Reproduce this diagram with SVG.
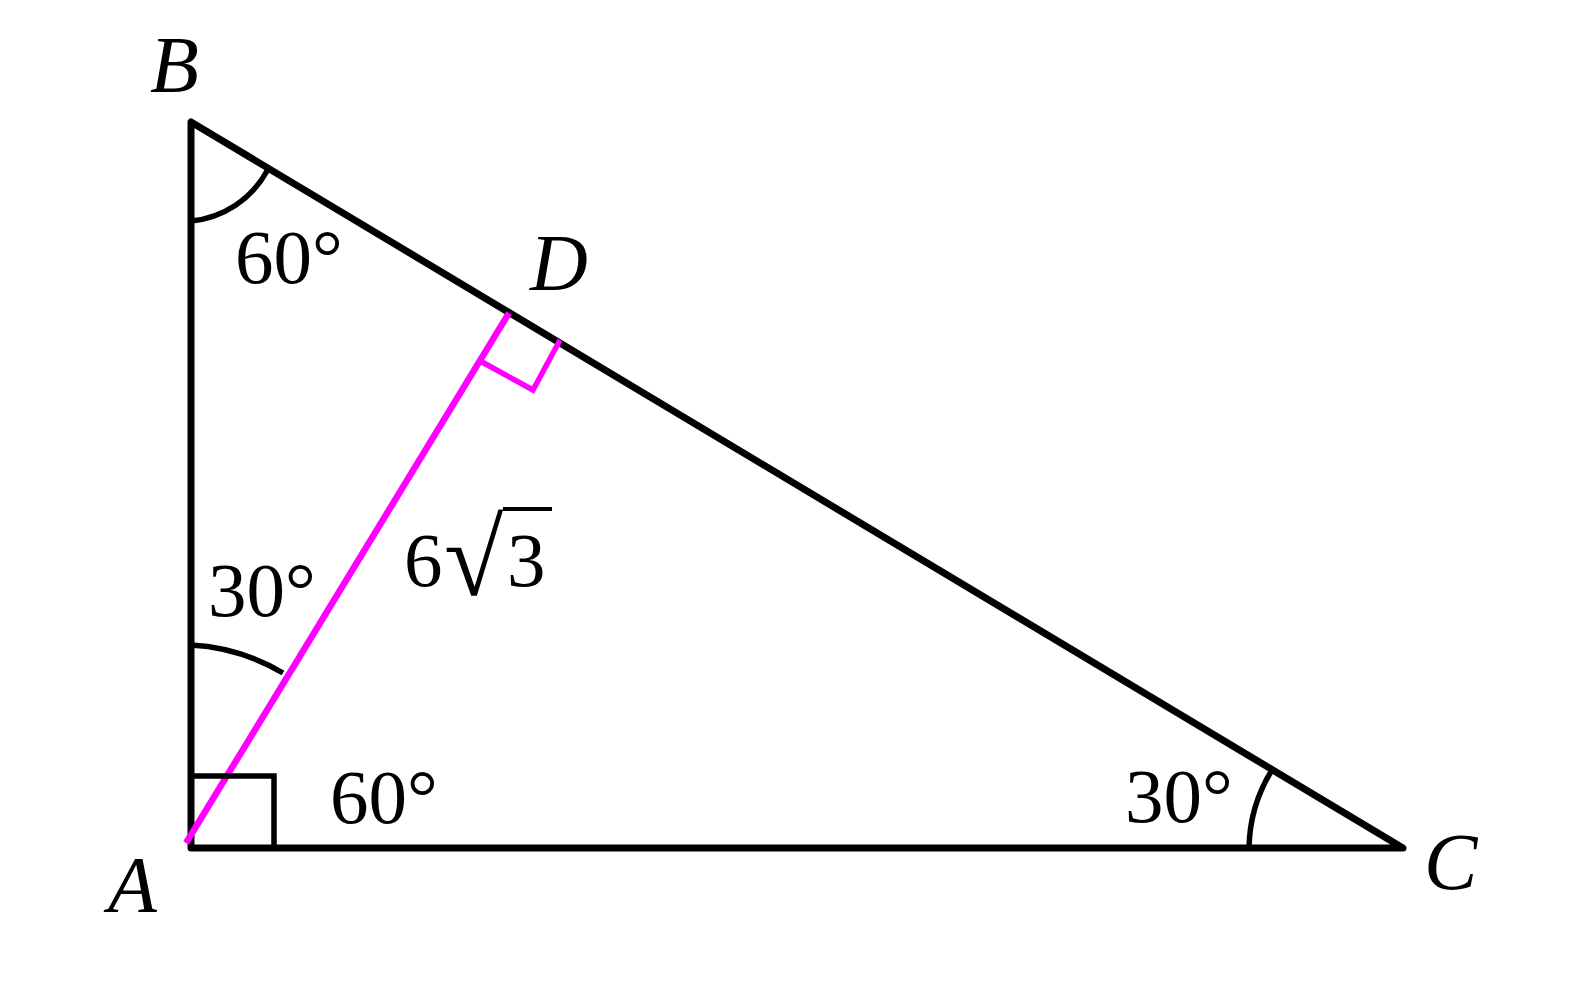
<svg xmlns="http://www.w3.org/2000/svg" width="1587" height="991" viewBox="0 0 1587 991">
<style>
.side{stroke:#000;stroke-width:7;fill:none;stroke-linecap:round;stroke-linejoin:round}
.mark{stroke:#000;stroke-width:5.5;fill:none}
.alt{stroke:#ff00ff;stroke-width:6.5;fill:none}
.altmark{stroke:#ff00ff;stroke-width:5.5;fill:none}
.pt{font-family:"Liberation Serif",serif;font-style:italic;font-size:80px;fill:#000}
.num{font-family:"Liberation Serif",serif;font-size:77px;fill:#000}
</style>
<rect width="1587" height="991" fill="#fff"/>
<g id="connectors">
<polygon class="side" points="191,122 191,848 1403,848"/>
<line class="alt" x1="186" y1="843" x2="509" y2="313"/>
</g>
<g id="marks">
<polyline class="mark" points="191,776 274,776 274,848"/>
<path class="mark" d="M191,221 A97,97 0 0 0 267,171"/>
<path class="mark" d="M191,645 A201,201 0 0 1 283,673"/>
<path class="mark" d="M1249,848 A153,153 0 0 1 1272,770"/>
<polyline class="altmark" points="482,362 533,390 560,340"/>
</g>
<g id="B"><text class="pt" x="150" y="92">B</text></g>
<g id="D"><text class="pt" x="530" y="290">D</text></g>
<g id="A"><text class="pt" x="108" y="912">A</text></g>
<g id="C"><text class="pt" x="1424" y="889">C</text></g>
<g id="angle-B"><text class="num" x="235" y="283">60°</text></g>
<g id="angle-BAD"><text class="num" x="208" y="616">30°</text></g>
<g id="angle-DAC"><text class="num" x="330" y="823">60°</text></g>
<g id="angle-C"><text class="num" x="1125" y="822">30°</text></g>
<g id="length-AD">
<text class="num" x="404" y="586">6</text>
<text x="444" y="595" font-family="Liberation Serif, serif" font-size="108">√</text>
<text class="num" x="507" y="586">3</text>
<line x1="503" y1="509" x2="552" y2="509" stroke="#000" stroke-width="4"/>
</g>
</svg>
